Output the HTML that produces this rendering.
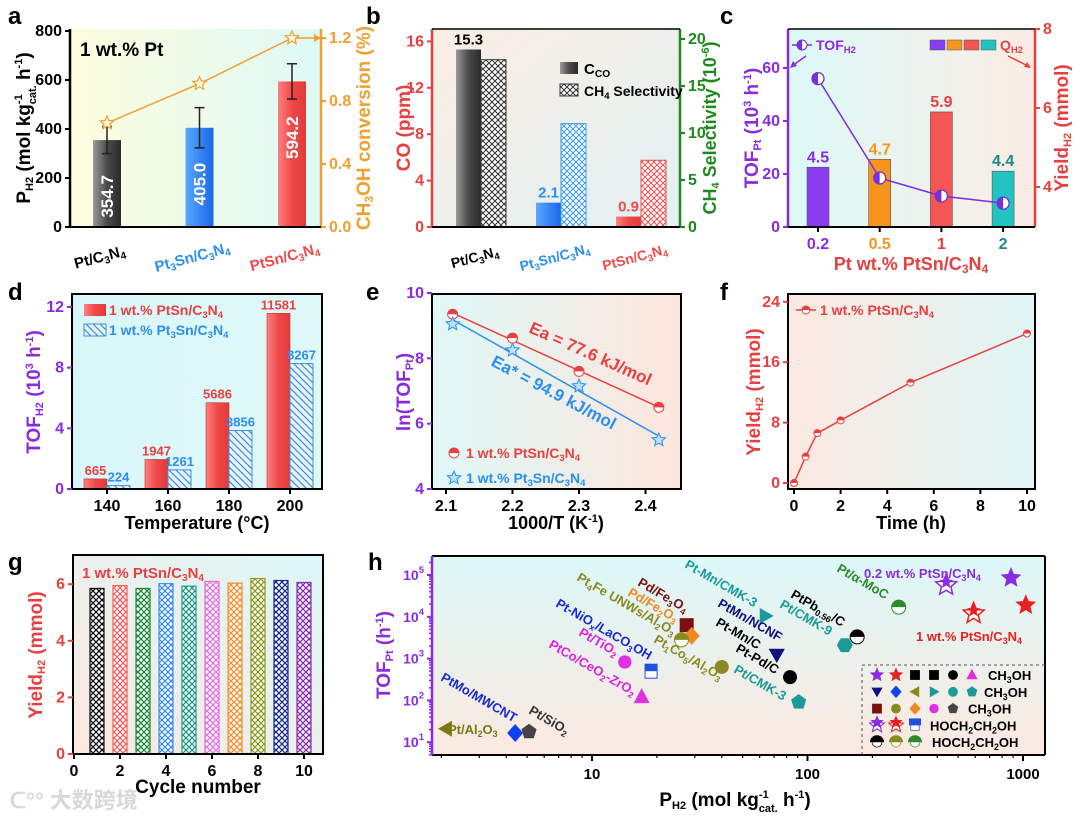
<!DOCTYPE html>
<html><head><meta charset="utf-8"><title>Catalysis figure</title>
<style>
html,body{margin:0;padding:0;background:#fff;}
svg{display:block;font-family:"Liberation Sans","Noto Sans CJK SC",sans-serif;font-weight:bold;}
</style></head>
<body>
<svg id="fig" width="1080" height="819" viewBox="0 0 1080 819" xmlns="http://www.w3.org/2000/svg">
<defs>
<linearGradient id="bgA" x1="0" y1="0" x2="1" y2="0"><stop offset="0" stop-color="#fdfdde"/><stop offset="1" stop-color="#def9f6"/></linearGradient>
<linearGradient id="bgB" x1="0" y1="0" x2="1" y2="1"><stop offset="0" stop-color="#fbeee4"/><stop offset="1" stop-color="#e1f1f3"/></linearGradient>
<linearGradient id="bgC" x1="0" y1="0" x2="1" y2="0"><stop offset="0" stop-color="#dcf9f8"/><stop offset="1" stop-color="#fbece4"/></linearGradient>
<linearGradient id="bgD" x1="0" y1="0" x2="1" y2="0"><stop offset="0" stop-color="#d9f7fa"/><stop offset="1" stop-color="#dff8f8"/></linearGradient>
<linearGradient id="bgE" x1="0" y1="0" x2="1" y2="0"><stop offset="0" stop-color="#dff8f8"/><stop offset="1" stop-color="#fce6dc"/></linearGradient>
<linearGradient id="bgF" x1="0" y1="0" x2="1" y2="0"><stop offset="0" stop-color="#fbe9e1"/><stop offset="1" stop-color="#e0f6f6"/></linearGradient>
<linearGradient id="bgG" x1="0" y1="1" x2="1" y2="0"><stop offset="0" stop-color="#fbe8df"/><stop offset="1" stop-color="#dcf7f8"/></linearGradient>
<linearGradient id="bgH" x1="0" y1="0" x2="0" y2="1"><stop offset="0" stop-color="#dcf8f8"/><stop offset="1" stop-color="#fbe9e0"/></linearGradient>
<linearGradient id="gGray" x1="0" x2="1"><stop offset="0" stop-color="#9a9a9a"/><stop offset="0.5" stop-color="#4a4a4a"/><stop offset="1" stop-color="#2a2a2a"/></linearGradient>
<linearGradient id="gBlue" x1="0" x2="1"><stop offset="0" stop-color="#5aa8ff"/><stop offset="1" stop-color="#1a66e8"/></linearGradient>
<linearGradient id="gRed" x1="0" x2="1"><stop offset="0" stop-color="#ff8080"/><stop offset="0.5" stop-color="#f04848"/><stop offset="1" stop-color="#e03a3a"/></linearGradient>
<pattern id="hatchGray" width="6" height="6" patternUnits="userSpaceOnUse"><rect width="6" height="6" fill="#fff"/><path d="M0,0L6,6M6,0L0,6" stroke="#333" stroke-width="1"/></pattern>
<pattern id="hatchBlue" width="6" height="6" patternUnits="userSpaceOnUse"><rect width="6" height="6" fill="#fff"/><path d="M0,0L6,6M6,0L0,6" stroke="#3a9af0" stroke-width="1"/></pattern>
<pattern id="hatchRed" width="6" height="6" patternUnits="userSpaceOnUse"><rect width="6" height="6" fill="#fff"/><path d="M0,0L6,6M6,0L0,6" stroke="#f05050" stroke-width="1"/></pattern>
<pattern id="diagBlue" width="7" height="7" patternUnits="userSpaceOnUse"><rect width="7" height="7" fill="#e8f4ff"/><path d="M-1,-1L8,8M-1,6L1,8M6,-1L8,1" stroke="#3a8fe0" stroke-width="1.2"/></pattern>
</defs>

<text x="8" y="24" font-size="24" fill="#000">a</text>
<text x="366" y="24" font-size="24" fill="#000">b</text>
<text x="720" y="24" font-size="24" fill="#000">c</text>
<text x="8" y="300" font-size="24" fill="#000">d</text>
<text x="366" y="300" font-size="24" fill="#000">e</text>
<text x="720" y="300" font-size="24" fill="#000">f</text>
<text x="8" y="570" font-size="24" fill="#000">g</text>
<text x="368" y="570" font-size="24" fill="#000">h</text>

<rect x="70" y="29" width="251" height="198" fill="url(#bgA)"/>
<rect x="432" y="29" width="248" height="198" fill="url(#bgB)"/>
<rect x="788" y="29" width="247" height="198" fill="url(#bgC)"/>
<rect x="72" y="294" width="250" height="195" fill="url(#bgD)"/>
<rect x="432" y="294" width="249" height="195" fill="url(#bgE)"/>
<rect x="788" y="294" width="247" height="195" fill="url(#bgF)"/>
<rect x="73" y="555" width="250" height="199" fill="url(#bgG)"/>
<rect x="432" y="556" width="613" height="199" fill="url(#bgH)"/>

<g id="marks"></g>

<text transform="translate(30,128) rotate(-90)" text-anchor="middle" font-size="19" fill="#000">P<tspan font-size="11" dy="3">H2</tspan><tspan dy="-3"> (mol kg</tspan><tspan font-size="11" dy="-8">-1</tspan><tspan font-size="11" dx="-10" dy="14">cat.</tspan><tspan dy="-6"> h</tspan><tspan font-size="11" dy="-8">-1</tspan><tspan dy="8">)</tspan></text>
<text transform="translate(370,128) rotate(-90)" text-anchor="middle" font-size="19" fill="#f0a030">CH<tspan font-size="12" dy="3">3</tspan><tspan dy="-3">OH conversion (%)</tspan></text>
<text transform="translate(410,128) rotate(-90)" text-anchor="middle" font-size="19" fill="#e84040">CO (ppm)</text>
<text transform="translate(716,128) rotate(-90)" text-anchor="middle" font-size="18" fill="#1e8a1e">CH<tspan font-size="11" dy="3">4</tspan><tspan dy="-3"> Selectivity (10</tspan><tspan font-size="11" dy="-7">-6</tspan><tspan dy="7">)</tspan></text>
<text transform="translate(758,128) rotate(-90)" text-anchor="middle" font-size="19" fill="#8a2be2">TOF<tspan font-size="11" dy="3">Pt</tspan><tspan dy="-3"> (10</tspan><tspan font-size="11" dy="-7">3</tspan><tspan dy="7"> h</tspan><tspan font-size="11" dy="-7">-1</tspan><tspan dy="7">)</tspan></text>
<text transform="translate(1068,128) rotate(-90)" text-anchor="middle" font-size="19" fill="#e84040">Yield<tspan font-size="11" dy="3">H2</tspan><tspan dy="-3"> (mmol)</tspan></text>
<text x="911" y="270" text-anchor="middle" font-size="18" fill="#e84040">Pt wt.% PtSn/C<tspan font-size="12" dy="3">3</tspan><tspan dy="-3">N</tspan><tspan font-size="12" dy="3">4</tspan></text>
<text transform="translate(40,392) rotate(-90)" text-anchor="middle" font-size="19" fill="#8a2be2">TOF<tspan font-size="11" dy="3">H2</tspan><tspan dy="-3"> (10</tspan><tspan font-size="11" dy="-7">3</tspan><tspan dy="7"> h</tspan><tspan font-size="11" dy="-7">-1</tspan><tspan dy="7">)</tspan></text>
<text x="197" y="529" text-anchor="middle" font-size="18" fill="#000">Temperature (°C)</text>
<text transform="translate(410,392) rotate(-90)" text-anchor="middle" font-size="19" fill="#8a2be2">ln(TOF<tspan font-size="11" dy="3">Pt</tspan><tspan dy="-3">)</tspan></text>
<text x="556" y="529" text-anchor="middle" font-size="18" fill="#000">1000/T (K<tspan font-size="11" dy="-7">-1</tspan><tspan dy="7">)</tspan></text>
<text transform="translate(760,392) rotate(-90)" text-anchor="middle" font-size="19" fill="#e84040">Yield<tspan font-size="11" dy="3">H2</tspan><tspan dy="-3"> (mmol)</tspan></text>
<text x="911" y="529" text-anchor="middle" font-size="18" fill="#000">Time (h)</text>
<text transform="translate(42,655) rotate(-90)" text-anchor="middle" font-size="19" fill="#e84040">Yield<tspan font-size="11" dy="3">H2</tspan><tspan dy="-3"> (mmol)</tspan></text>
<text x="198" y="793" text-anchor="middle" font-size="19" fill="#000">Cycle number</text>
<text transform="translate(390,655) rotate(-90)" text-anchor="middle" font-size="19" fill="#8a2be2">TOF<tspan font-size="11" dy="3">Pt</tspan><tspan dy="-3"> (h</tspan><tspan font-size="11" dy="-7">-1</tspan><tspan dy="7">)</tspan></text>
<text x="735" y="806" text-anchor="middle" font-size="19" fill="#000">P<tspan font-size="11" dy="3">H2</tspan><tspan dy="-3"> (mol kg</tspan><tspan font-size="11" dy="-8">-1</tspan><tspan font-size="11" dx="-10" dy="14">cat.</tspan><tspan dy="-6"> h</tspan><tspan font-size="11" dy="-8">-1</tspan><tspan dy="8">)</tspan></text>

<text x="80" y="56" font-size="19" fill="#000">1 wt.% Pt</text>
<text x="82" y="578" font-size="15" fill="#e84040">1 wt.% PtSn/C<tspan font-size="10" dy="3">3</tspan><tspan dy="-3">N</tspan><tspan font-size="10" dy="3">4</tspan></text>
<text x="10" y="808" font-size="22" fill="#d8d8d8">ᑕ°° 大数跨境</text>
</svg>

<script>
var NS='http://www.w3.org/2000/svg';
var M=document.getElementById('marks');
function mk(t,a,p){var e=document.createElementNS(NS,t);for(var k in a)e.setAttribute(k,a[k]);(p||M).appendChild(e);return e;}
function rich(el,s){s=String(s);var parts=s.split(/(_\{[^}]*\}|\^\{[^}]*\})/);var cur=0;
parts.forEach(function(p){if(p==='')return;var off=0,txtv=p,small=false;
if(p.indexOf('_{')===0){off=3;txtv=p.slice(2,-1);small=true;}else if(p.indexOf('^{')===0){off=-7;txtv=p.slice(2,-1);small=true;}
var t=document.createElementNS(NS,'tspan');t.setAttribute('dy',off-cur);cur=off;if(small)t.setAttribute('font-size','0.68em');t.textContent=txtv;el.appendChild(t);});}
function txt(x,y,s,a){var e=mk('text',a);e.setAttribute('x',x);e.setAttribute('y',y);rich(e,s);return e;}
function starPts(cx,cy,r){var p=[];for(var i=0;i<10;i++){var rr=i%2?r*0.45:r;var an=-Math.PI/2+i*Math.PI/5;p.push((cx+rr*Math.cos(an)).toFixed(1)+','+(cy+rr*Math.sin(an)).toFixed(1));}return p.join(' ');}

/* ---------- DATA ---------- */
var aCats=['Pt/C_{3}N_{4}','Pt_{3}Sn/C_{3}N_{4}','PtSn/C_{3}N_{4}'];
var aVals=[354.7,405.0,594.2];
var aErr=[55,82,72];
var aConv=[0.66,0.91,1.2];
var aLeftTicks=[0,200,400,600,800];
var aRightTicks=[0,0.4,0.8,1.2];

var bCats=['Pt/C_{3}N_{4}','Pt_{3}Sn/C_{3}N_{4}','PtSn/C_{3}N_{4}'];
var bCO=[15.3,2.1,0.9];
var bCH4=[17.8,11.0,7.1];
var bLeftTicks=[0,4,8,12,16];
var bRightTicks=[0,5,10,15,20];

var cCats=['0.2','0.5','1','2'];
var cYield=[4.5,4.7,5.9,4.4];
var cTOF=[56,18.5,11.7,9];
var cLeftTicks=[0,20,40,60];
var cRightTicks=[4,6,8];

var dCats=['140','160','180','200'];
var dPtSn=[665,1947,5686,11581];
var dPt3Sn=[224,1261,3856,8267];
var dTicks=[0,4,8,12];

var eX=[2.11,2.2,2.3,2.42];
var eRed=[9.35,8.62,7.6,6.5];
var eBlue=[9.05,8.25,7.15,5.5];
var eXTicks=[2.1,2.2,2.3,2.4];
var eYTicks=[4,6,8,10];

var fT=[0,0.5,1,2,5,10];
var fY=[0,3.5,6.6,8.3,13.3,19.8];
var fXTicks=[0,2,4,6,8,10];
var fYTicks=[0,8,16,24];

var gCycle=[1,2,3,4,5,6,7,8,9,10];
var gVals=[5.85,5.95,5.85,6.02,5.93,6.1,6.04,6.2,6.13,6.06];
var gXTicks=[0,2,4,6,8,10];
var gYTicks=[0,2,4,6];

var hNames=['0.2 wt.% PtSn/C3N4 (CH3OH)','0.2 wt.% PtSn/C3N4 (HOCH2CH2OH)','1 wt.% PtSn/C3N4 (CH3OH)','1 wt.% PtSn/C3N4 (HOCH2CH2OH)','Pt/α-MoC','PtPb0.56/C','Pt/CMK-9','Pt-Mn/CMK-3','PtMn/NCNF','Pt-Pd/C','Pt/CMK-3','Pt1Co5/Al2O3','Pd/Fe3O4','Pd/Fe2O3','Pt4Fe UNWs/Al2O3','Pt-NiOx/LaCO3OH','Pt/TiO2','PtCo/CeO2-ZrO2','PtMo/MWCNT','Pt/SiO2','Pt/Al2O3','Pt-Mn/C'];
var hX=[880,440,1030,590,265,170,149,64,72,83,91,40,27.5,29,26,18.8,14.2,17,4.4,5.1,2.1,72];
var hY=[85000,57000,19000,12000,17000,3300,2100,10500,1230,360,91,630,6300,3500,2800,500,830,120,16.6,17.8,21,1230];
var hXTicks=[10,100,1000];
var hYExp=[1,2,3,4,5];

/* ---------- AXIS FUNCTIONS ---------- */
function ax(i){return 107+i*92.5;}
function ayL(v){return 227-v*196/800;}
function ayR(v){return 227-v*157.5;}
function bx(i){return 481+i*80;}
function byL(v){return 227-v*11.6;}
function byR(v){return 227-v*9.4;}
function cx(i){return 818+i*61.7;}
function cyL(v){return 227-v*2.65;}
function cyR(v){return 187-(v-4)*39.5;}
function dx(i){return 107+i*61;}
function dy(v){return 489-v*15.17;}
function ex(v){return 446+(v-2.1)*665;}
function ey(v){return 489-(v-4)*32.67;}
function fx(v){return 794+v*23.3;}
function fy(v){return 483-v*7.55;}
function gx(v){return 74+v*23;}
function gy(v){return 754-v*28.3;}
function hx(v){return 592+(Math.log10(v)-1)*215.5;}
function hy(v){return 575-(Math.log10(v)-5)*41.8;}

function frame(x,y,w,h,name){var r=mk('rect',{x:x,y:y,width:w,height:h,fill:'none',stroke:'#000','stroke-width':2});

}
function yTicks(xa,vals,fn,side,col,fmt,fs){vals.forEach(function(v){var y=fn(v);var d=side<0?-5:5;
var l=mk('line',{x1:xa,y1:y,x2:xa+d,y2:y,stroke:col,'stroke-width':2});


var t=txt(side<0?xa-8:xa+8,y+5,fmt?fmt(v):v,{'text-anchor':side<0?'end':'start','font-size':fs||15,fill:col});

});}
function yAxisLine(x,y1,y2,col){var l=mk('line',{x1:x,y1:y1,x2:x,y2:y2,stroke:col,'stroke-width':2.5});

}
function xTicks(yb,vals,fn,lab,col,fs){vals.forEach(function(v,i){var x=fn(v,i);
var l=mk('line',{x1:x,y1:yb,x2:x,y2:yb+5,stroke:'#000','stroke-width':2});


var t=txt(x,yb+22,lab?lab(v,i):v,{'text-anchor':'middle','font-size':fs||15,fill:col?(typeof col=='function'?col(i):col):'#000'});

});}
var C34='C_{3}N_{4}';

/* ---------- PANEL A ---------- */
var aFill=['url(#gGray)','url(#gBlue)','url(#gRed)'];
var aCol=['#000','#2b8ff0','#f04a4a'];
aVals.forEach(function(v,i){var x=ax(i);
var r=mk('rect',{x:x-14,y:ayL(v),width:28,height:227-ayL(v),fill:aFill[i]});


var e=mk('path',{d:'M'+x+','+ayL(v+aErr[i])+'V'+ayL(v-aErr[i])+'M'+(x-5)+','+ayL(v+aErr[i])+'h10M'+(x-5)+','+ayL(v-aErr[i])+'h10',stroke:'#222','stroke-width':1.5,fill:'none'});


var t=mk('text',{transform:'translate('+(x+6)+','+(ayL(v)+35)+') rotate(-90)','text-anchor':'end','font-size':17,fill:'#fff'});t.textContent=v.toFixed(1);


var c=mk('text',{transform:'translate('+(x-6)+','+(262)+') rotate(-15)','text-anchor':'middle','font-size':15,fill:aCol[i]});rich(c,aCats[i]);

});
var ap=aConv.map(function(v,i){return ax(i)+','+ayR(v);}).join(' ');
var al=mk('polyline',{points:ap+' 321,'+ayR(aConv[2]),fill:'none',stroke:'#f0a030','stroke-width':1.5});


mk('path',{d:'M321,'+ayR(aConv[2])+'l-7,-4v8z',fill:'#f0a030'});
aConv.forEach(function(v,i){var s=mk('polygon',{points:starPts(ax(i),ayR(v),7),fill:'#fff8e0',stroke:'#f0a030','stroke-width':1.2});

});
yAxisLine(70,29,227,'#000');yAxisLine(321,29,227,'#f0a030');
mk('line',{x1:70,y1:227,x2:321,y2:227,stroke:'#000','stroke-width':2});
yTicks(70,aLeftTicks,ayL,-1,'#000',null,16);
yTicks(321,aRightTicks,ayR,1,'#f0a030',function(v){return v.toFixed(1);},16);

/* ---------- PANEL B ---------- */
var bHatch=['url(#hatchGray)','url(#hatchBlue)','url(#hatchRed)'];
var bLab=['#000','#2b8ff0','#f04a4a'];
bCO.forEach(function(v,i){var x=bx(i);
var r=mk('rect',{x:x-25,y:byL(v),width:25,height:227-byL(v),fill:aFill[i]});


var h=mk('rect',{x:x,y:byR(bCH4[i]),width:25,height:227-byR(bCH4[i]),fill:bHatch[i],stroke:i==0?'#333':(i==1?'#3a9af0':'#f05050'),'stroke-width':1});


var t=txt(x-12.5,byL(v)-5,v,{'text-anchor':'middle','font-size':15,fill:bLab[i]});


var c=mk('text',{transform:'translate('+(x-5)+','+(262)+') rotate(-15)','text-anchor':'middle','font-size':14,fill:bLab[i]});rich(c,bCats[i]);

});
yAxisLine(432,29,227,'#e84040');yAxisLine(680,29,227,'#1e8a1e');
mk('line',{x1:432,y1:227,x2:680,y2:227,stroke:'#000','stroke-width':2});
mk('line',{x1:432,y1:29,x2:680,y2:29,stroke:'#000','stroke-width':1.5});
yTicks(432,bLeftTicks,byL,-1,'#e84040',null,16);
yTicks(680,bRightTicks,byR,1,'#1e8a1e',null,16);
var lb1=mk('rect',{x:560,y:62,width:18,height:12,fill:'url(#gGray)'});


var lb2=mk('rect',{x:560,y:84,width:18,height:12,fill:'url(#hatchGray)',stroke:'#333'});


var lt1=txt(584,74,'C_{CO}',{'font-size':15,fill:'#000'});


var lt2=txt(584,96,'CH_{4} Selectivity',{'font-size':14,fill:'#000'});



/* ---------- PANEL C ---------- */
var cCol=['#8a3cf0','#f7941d','#f55555','#22c2c2'];
var cLabCol=['#8a2be2','#f7941d','#e84040','#1a8a8a'];
cYield.forEach(function(v,i){var x=cx(i);
var r=mk('rect',{x:x-11,y:cyR(v),width:22,height:227-cyR(v),fill:cCol[i],stroke:'#555','stroke-width':0.6});


var t=txt(x,cyR(v)-5,v.toFixed(1),{'text-anchor':'middle','font-size':16,fill:cLabCol[i]});

});
var cp=cTOF.map(function(v,i){return cx(i)+','+cyL(v);}).join(' ');
var cl=mk('polyline',{points:cp,fill:'none',stroke:'#7a2ee0','stroke-width':1.5});


cTOF.forEach(function(v,i){var y=cyL(v),x=cx(i);
var c=mk('circle',{cx:x,cy:y,r:6,fill:'#fff',stroke:'#6a2ed0','stroke-width':1.2});


mk('path',{d:'M'+x+','+(y-6)+'A6,6 0 0 0 '+x+','+(y+6)+'z',fill:'#7a2ee0'});});
yAxisLine(788,29,227,'#8a2be2');yAxisLine(1035,29,227,'#e84040');
mk('line',{x1:788,y1:227,x2:1035,y2:227,stroke:'#000','stroke-width':2});
mk('line',{x1:788,y1:29,x2:1035,y2:29,stroke:'#000','stroke-width':1.5});
yTicks(788,cLeftTicks,cyL,-1,'#8a2be2',null,16);
yTicks(1035,cRightTicks,cyR,1,'#e84040',null,16);
xTicks(227,cCats,function(v,i){return cx(i);},null,function(i){return cLabCol[i];},16);
mk('line',{x1:792,y1:45,x2:812,y2:45,stroke:'#7a2ee0','stroke-width':1.5});
mk('circle',{cx:802,cy:45,r:5,fill:'#fff',stroke:'#6a2ed0'});mk('path',{d:'M802,40A5,5 0 0 0 802,50z',fill:'#7a2ee0'});
var ct=txt(816,50,'TOF_{H2}',{'font-size':14,fill:'#8a2be2'});


mk('path',{d:'M806,56L792,66',stroke:'#8a2be2','stroke-width':1.5});mk('path',{d:'M790,68l3,-7l4,5z',fill:'#8a2be2'});
cCol.forEach(function(c,i){var r=mk('rect',{x:930+i*17,y:40,width:15,height:10,fill:c,stroke:'#555','stroke-width':0.5});

});
var qt=txt(1000,50,'Q_{H2}',{'font-size':14,fill:'#e84040'});


mk('path',{d:'M1008,56L1028,66',stroke:'#e84040','stroke-width':1.5});mk('path',{d:'M1031,68l-7,-1l3,-5z',fill:'#e84040'});

/* ---------- PANEL D ---------- */
dPtSn.forEach(function(v,i){var x=dx(i),u=dPt3Sn[i];
var r=mk('rect',{x:x-23,y:dy(v/1000),width:23,height:489-dy(v/1000),fill:'url(#gRed)',stroke:'#c83030','stroke-width':0.6});


var b=mk('rect',{x:x,y:dy(u/1000),width:23,height:489-dy(u/1000),fill:'url(#diagBlue)',stroke:'#3a8fe0','stroke-width':1});


var t1=txt(x-11.5,dy(v/1000)-4,v,{'text-anchor':'middle','font-size':13,fill:'#e84040'});


var t2=txt(x+11.5,dy(u/1000)-4,u,{'text-anchor':'middle','font-size':13,fill:'#2b8ff0'});

});
frame(72,294,250,195,'frame-d');
yTicks(72,dTicks,dy,-1,'#8a2be2',null,16);
xTicks(489,dCats,function(v,i){return dx(i);},null,'#000',16);
var dl1=mk('rect',{x:84,y:304,width:22,height:12,fill:'url(#gRed)'});


var dl2=mk('rect',{x:84,y:324,width:22,height:12,fill:'url(#diagBlue)',stroke:'#3a8fe0'});


var dt1=txt(109,315,'1 wt.% PtSn/'+C34,{'font-size':14,fill:'#e84040'});


var dt2=txt(109,335,'1 wt.% Pt_{3}Sn/'+C34,{'font-size':14,fill:'#2b8ff0'});



/* ---------- PANEL E ---------- */
function fit(xs,ys){var n=xs.length,mx=0,my=0;xs.forEach(function(v,i){mx+=v;my+=ys[i];});mx/=n;my/=n;var sxy=0,sxx=0;xs.forEach(function(v,i){sxy+=(v-mx)*(ys[i]-my);sxx+=(v-mx)*(v-mx);});var k=sxy/sxx;return function(x){return my+k*(x-mx);};}
var fr=fit(eX,eRed),fb=fit(eX,eBlue);
var x0=eX[0],x1=eX[eX.length-1];
var lr=mk('line',{x1:ex(x0),y1:ey(fr(x0)),x2:ex(x1),y2:ey(fr(x1)),stroke:'#e84040','stroke-width':1.5});


var lbl=mk('line',{x1:ex(x0),y1:ey(fb(x0)),x2:ex(x1),y2:ey(fb(x1)),stroke:'#2b8ff0','stroke-width':1.5});


function halfC(x,y,r,col){var c=mk('circle',{cx:x,cy:y,r:r,fill:'#fff',stroke:col,'stroke-width':1});mk('path',{d:'M'+(x-r)+','+y+'A'+r+','+r+' 0 0 1 '+(x+r)+','+y+'z',fill:col});return c;}
eX.forEach(function(v,i){var c=halfC(ex(v),ey(eRed[i]),5,'#e84040');


var s=mk('polygon',{points:starPts(ex(v),ey(eBlue[i]),7),fill:'#bfe0ff',stroke:'#2b8ff0','stroke-width':1});

});
frame(432,294,249,195,'frame-e');
yTicks(432,eYTicks,ey,-1,'#8a2be2',null,16);
xTicks(489,eXTicks,ex,function(v){return v.toFixed(1);},'#000',16);
var ea1=mk('text',{transform:'translate(528,332) rotate(24)','font-size':17,fill:'#e84040'});ea1.textContent='Ea = 77.6 kJ/mol';


var ea2=mk('text',{transform:'translate(490,365) rotate(28)','font-size':17,fill:'#2b8ff0'});ea2.textContent='Ea* = 94.9 kJ/mol';


halfC(454,453,5,'#e84040');
mk('polygon',{points:starPts(454,478,7),fill:'#bfe0ff',stroke:'#2b8ff0'});
var el1=txt(466,458,'1 wt.% PtSn/'+C34,{'font-size':14,fill:'#e84040'});


var el2=txt(466,483,'1 wt.% Pt_{3}Sn/'+C34,{'font-size':14,fill:'#2b8ff0'});



/* ---------- PANEL F ---------- */
var fl=mk('polyline',{points:fT.map(function(v,i){return fx(v)+','+fy(fY[i]);}).join(' '),fill:'none',stroke:'#e84040','stroke-width':1.5});


fT.forEach(function(v,i){var c=halfC(fx(v),fy(fY[i]),3.5,'#e84040');

});
frame(788,294,247,195,'frame-f');
yTicks(788,fYTicks,fy,-1,'#e84040',null,16);
xTicks(489,fXTicks,fx,null,'#000',16);
mk('line',{x1:796,y1:310,x2:816,y2:310,stroke:'#e84040','stroke-width':1.5});halfC(806,310,4,'#e84040');
var fl2=txt(820,315,'1 wt.% PtSn/'+C34,{'font-size':14,fill:'#e84040'});



/* ---------- PANEL G ---------- */
var gCol=['#111','#f06060','#1a8a3a','#3a8ff0','#1a9a8a','#e070e0','#f09030','#8a9a20','#1a2a8a','#8a2ab0'];
var gDefs=document.querySelector('defs');
gCol.forEach(function(c,i){var p=mk('pattern',{id:'gx'+i,width:6,height:6,patternUnits:'userSpaceOnUse'},gDefs);mk('rect',{width:6,height:6,fill:'#fff'},p);mk('path',{d:'M0,0L6,6M6,0L0,6',stroke:c,'stroke-width':1.3},p);});
gCycle.forEach(function(v,i){var r=mk('rect',{x:gx(v)-7,y:gy(gVals[i]),width:14,height:754-gy(gVals[i]),fill:'url(#gx'+i+')',stroke:gCol[i],'stroke-width':1.2});

});
frame(73,555,250,199,'frame-g');
yTicks(73,gYTicks,gy,-1,'#e84040',null,16);
xTicks(754,gXTicks,gx,null,'#000',16);

/* ---------- PANEL H ---------- */
var hShape=['star','ostar','star','ostar','halfg','halfk','hex','rtri','dtri','circ','pent','circ','sq','dia','half','hsq','sph','tri','dia','pent','ltri','dtri'];
var hCol=['#8a2be2','#8a2be2','#e82020','#e82020','#2a8a2a','#000','#1a9a9a','#1a9a9a','#101080','#000','#1a9a9a','#8a8a20','#7a1010','#f08a20','#8a8a20','#2050e0','#e030e0','#e030e0','#1040f0','#444','#7a7a10','#101080'];
function shape(s,x,y,c){var r=7;
if(s=='star')return mk('polygon',{points:starPts(x,y,11),fill:c});
if(s=='ostar'){var e=mk('polygon',{points:starPts(x,y,11),fill:'#fff',stroke:c,'stroke-width':1.5});mk('polygon',{points:starPts(x,y-3,7),fill:c});return e;}
if(s=='circ')return mk('circle',{cx:x,cy:y,r:r,fill:c});
if(s=='sph')return mk('circle',{cx:x,cy:y,r:r,fill:c,stroke:'#fff','stroke-width':0.5});
if(s.indexOf('half')==0){var e2=mk('circle',{cx:x,cy:y,r:r,fill:'#fff',stroke:c});mk('path',{d:'M'+(x-r)+','+y+'A'+r+','+r+' 0 0 1 '+(x+r)+','+y+'z',fill:c});return e2;}
if(s=='sq')return mk('rect',{x:x-7,y:y-7,width:14,height:14,fill:c});
if(s=='hsq'){var e3=mk('rect',{x:x-6,y:y-7,width:12,height:14,fill:'#fff',stroke:c});mk('rect',{x:x-6,y:y-7,width:12,height:7,fill:c});return e3;}
if(s=='dia')return mk('polygon',{points:x+','+(y-9)+' '+(x+8)+','+y+' '+x+','+(y+9)+' '+(x-8)+','+y,fill:c});
if(s=='tri')return mk('polygon',{points:x+','+(y-9)+' '+(x+8)+','+(y+6)+' '+(x-8)+','+(y+6),fill:c});
if(s=='dtri')return mk('polygon',{points:(x-8)+','+(y-6)+' '+(x+8)+','+(y-6)+' '+x+','+(y+8),fill:c});
if(s=='rtri')return mk('polygon',{points:(x-6)+','+(y-8)+' '+(x+8)+','+y+' '+(x-6)+','+(y+8),fill:c});
if(s=='ltri')return mk('polygon',{points:(x+6)+','+(y-8)+' '+(x-8)+','+y+' '+(x+6)+','+(y+8),fill:c});
var p=[];var n=(s=='hex')?6:5;for(var k=0;k<n;k++){var an=-Math.PI/2+k*2*Math.PI/n+(s=='hex'?Math.PI/6:0);p.push((x+8*Math.cos(an)).toFixed(1)+','+(y+8*Math.sin(an)).toFixed(1));}
return mk('polygon',{points:p.join(' '),fill:c});}
hX.forEach(function(v,i){var el=shape(hShape[i],hx(v),hy(hY[i]),hCol[i]);

});
mk('line',{x1:432,y1:755,x2:1045,y2:755,stroke:'#000','stroke-width':2});
mk('line',{x1:432,y1:556,x2:1045,y2:556,stroke:'#000','stroke-width':2});
mk('line',{x1:1045,y1:556,x2:1045,y2:755,stroke:'#000','stroke-width':2});
yAxisLine(432,556,755,'#8a2be2');
hYExp.forEach(function(e){var y=hy(Math.pow(10,e));mk('line',{x1:432,y1:y,x2:427,y2:y,stroke:'#8a2be2','stroke-width':2});
for(var m=2;m<10;m++){var yy=hy(m*Math.pow(10,e));if(yy>556)mk('line',{x1:432,y1:yy,x2:429,y2:yy,stroke:'#8a2be2','stroke-width':1.5});}
if(e==1){for(var m2=5;m2<10;m2++){mk('line',{x1:432,y1:hy(m2),x2:429,y2:hy(m2),stroke:'#8a2be2','stroke-width':1.5});}}
var t=txt(424,y+5,'10^{'+e+'}',{'text-anchor':'end','font-size':14,fill:'#8a2be2'});

});
[1,10,100,1000].forEach(function(d){for(var m=1;m<10;m++){var v=d*m;var x=hx(v);if(x<432||x>1045)continue;var major=(m==1);mk('line',{x1:x,y1:755,x2:x,y2:major?761:758,stroke:'#000','stroke-width':major?2:1.2});}});
hXTicks.forEach(function(v){var t=txt(hx(v),779,v,{'text-anchor':'middle','font-size':15,fill:'#000'});

});
var hLabels=[['PtMo/MWCNT',440,680,'#1a2ad0'],['Pt/SiO_{2}',528,713,'#333'],['PtCo/CeO_{2}-ZrO_{2}',548,647,'#e020e0'],['Pt/TiO_{2}',578,635,'#e020e0'],['Pt-NiO_{x}/LaCO_{3}OH',555,606,'#1a2ad0'],['Pt_{4}Fe UNWs/Al_{2}O_{3}',576,580,'#8a8a20'],['Pd/Fe_{3}O_{4}',637,585,'#7a1010'],['Pd/Fe_{2}O_{3}',627,595,'#f08a20'],['Pt_{1}Co_{5}/Al_{2}O_{3}',653,642,'#8a8a20'],['Pt-Mn/CMK-3',684,567,'#1a9a9a'],['PtMn/NCNF',717,606,'#101080'],['Pt-Mn/C',715,625,'#000'],['Pt-Pd/C',735,651,'#000'],['Pt/CMK-3',733,672,'#1a9a9a'],['Pt/CMK-9',779,607,'#1a9a9a'],['PtPb_{0.56}/C',790,597,'#000'],['Pt/α-MoC',836,571,'#2a8a2a']];
hLabels.forEach(function(L){var t=mk('text',{transform:'translate('+L[1]+','+L[2]+') rotate(30)','font-size':13,fill:L[3]});rich(t,L[0]);

});
var pa=txt(448,734,'Pt/Al_{2}O_{3}',{'font-size':13,fill:'#7a7a10'});


var p02=txt(864,578,'0.2 wt.% PtSn/'+C34,{'font-size':13,fill:'#8a2be2'});


var p1=txt(916,641,'1 wt.% PtSn/'+C34,{'font-size':13,fill:'#e82020'});


var lg=mk('path',{d:'M862,755V665H1045',fill:'none',stroke:'#555','stroke-dasharray':'3,3','stroke-width':1});


var legRows=[[['star','#8a2be2'],['star','#e82020'],['sq','#000'],['sq','#000'],['circ','#000'],['tri','#e030e0']],[['dtri','#101080'],['dia','#1040f0'],['ltri','#8a8a20'],['rtri','#1a9a9a'],['circ','#1a9a9a'],['pent','#1a9a9a']],[['sq','#7a1010'],['circ','#8a8a20'],['dia','#f08a20'],['sph','#e030e0'],['pent','#444']],[['ostar','#8a2be2'],['ostar','#e82020'],['hsq','#2050e0']],[['halfk','#000'],['half','#8a8a20'],['halfg','#2a8a2a']]];
var legTxt=['CH_{3}OH','CH_{3}OH','CH_{3}OH','HOCH_{2}CH_{2}OH','HOCH_{2}CH_{2}OH'];
var legTx=[988,984,968,930,932];
legRows.forEach(function(row,ri){var y=675+ri*16.8;row.forEach(function(s,k){var e=shape(s[0],877+k*19,y,s[1]);e.setAttribute('transform','translate('+(877+k*19)+','+y+') scale(0.7) translate('+(-(877+k*19))+','+(-y)+')');});
var t=txt(legTx[ri],y+5,legTxt[ri],{'font-size':13,fill:'#000'});

});
</script>
</body></html>
